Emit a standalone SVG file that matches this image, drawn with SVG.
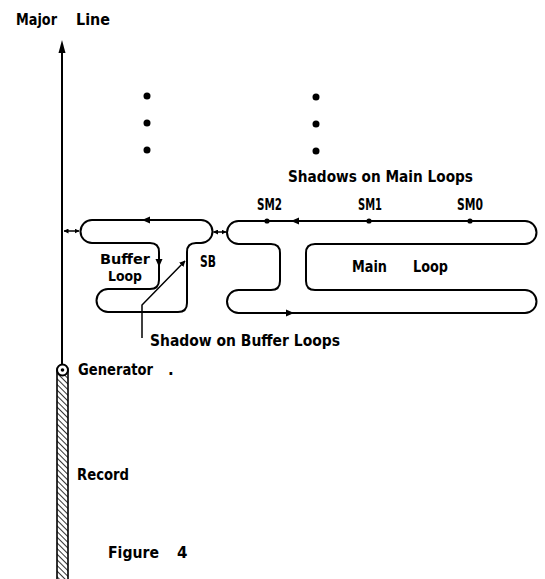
<svg xmlns="http://www.w3.org/2000/svg" width="545" height="579" viewBox="0 0 545 579">
<defs>
<style>
.t{font-family:"DejaVu Sans","Liberation Sans",sans-serif;font-size:15px;font-weight:bold;fill:#000}
.s{font-size:14px}
.ln{fill:none;stroke:#000;stroke-width:2;stroke-linejoin:round;stroke-linecap:round}
.thin{fill:none;stroke:#000;stroke-width:1.5}
.ah{fill:#000}
.dot{fill:#000}
</style>
<pattern id="hatch" patternUnits="userSpaceOnUse" width="4" height="4" patternTransform="rotate(-45)">
<rect width="4" height="4" fill="#fff"/>
<line x1="0" y1="0" x2="0" y2="4" stroke="#000" stroke-width="1.6"/>
</pattern>
<marker id="arrEnd" viewBox="0 0 10 10" refX="9" refY="5" markerWidth="6" markerHeight="6" orient="auto" markerUnits="userSpaceOnUse">
<path d="M0,0 L10,5 L0,10 Z" fill="#000"/>
</marker>
<marker id="arrSmall" viewBox="0 0 10 10" refX="9" refY="5" markerWidth="5" markerHeight="5" orient="auto-start-reverse" markerUnits="userSpaceOnUse">
<path d="M0,0 L10,5 L0,10 Z" fill="#000"/>
</marker>
</defs>
<rect width="545" height="579" fill="#fff"/>

<g id="major-line">
<line class="ln" x1="62" y1="50" x2="62" y2="365"/>
<path class="ah" d="M62,40 L65.5,53 L58.5,53 Z"/>
<text class="t" x="16" y="25" textLength="41" lengthAdjust="spacingAndGlyphs">Major</text>
<text class="t" x="76" y="25" textLength="34" lengthAdjust="spacingAndGlyphs">Line</text>
</g>

<g id="record">
<rect x="57" y="371" width="11" height="212" fill="url(#hatch)" stroke="#000" stroke-width="1.6"/>
<text class="t" x="77" y="480" textLength="52" lengthAdjust="spacingAndGlyphs">Record</text>
</g>

<g id="generator">
<circle cx="62.5" cy="370" r="5.5" fill="#fff" stroke="#000" stroke-width="2"/>
<circle cx="62.5" cy="370" r="1.8" fill="#000"/>
<text class="t" x="78" y="375" textLength="75" lengthAdjust="spacingAndGlyphs">Generator</text>
<text class="t" x="168" y="375">.</text>
</g>

<g id="main-shadow-dots">
<circle class="dot" cx="147" cy="96" r="3.5"/>
<circle class="dot" cx="147" cy="123" r="3.5"/>
<circle class="dot" cx="147" cy="150" r="3.5"/>
<circle class="dot" cx="316" cy="97" r="3.5"/>
<circle class="dot" cx="316" cy="124" r="3.5"/>
<circle class="dot" cx="316" cy="151" r="3.5"/>
<text class="t" x="288" y="182" textLength="185" lengthAdjust="spacingAndGlyphs">Shadows on Main Loops</text>
</g>

<g id="buffer-loop">
<path class="ln" d="M92,220 H201 A11.5,11.5 0 0 1 201,243 H196 Q187,243 187,252 V303 Q187,312 178,312 H108 A11.5,11.5 0 0 1 108,289 H150 Q159,289 159,280 V252 Q159,243 150,243 H92 A11.5,11.5 0 0 1 92,220 Z"/>
<path class="ah" d="M142,220 L150,216.5 L150,223.5 Z"/>
<path class="ah" d="M159,267 L155.5,259 L162.5,259 Z"/>
<text class="t s" x="100" y="264" textLength="50" lengthAdjust="spacingAndGlyphs">Buffer</text>
<text class="t s" x="108" y="281" textLength="34" lengthAdjust="spacingAndGlyphs">Loop</text>
<text class="t" x="200" y="267" textLength="16" lengthAdjust="spacingAndGlyphs">SB</text>
</g>

<g id="main-loop">
<path class="ln" d="M238.5,221 H525 A11.5,11.5 0 0 1 525,244 H315 Q306,244 306,253 V281 Q306,290 315,290 H525 A11.5,11.5 0 0 1 525,313 H238.5 A11.5,11.5 0 0 1 238.5,290 H271 Q280,290 280,281 V253 Q280,244 271,244 H238.5 A11.5,11.5 0 0 1 238.5,221 Z"/>
<path class="ah" d="M291,221 L299,217.5 L299,224.5 Z"/>
<path class="ah" d="M294,313 L286,309.5 L286,316.5 Z"/>
<circle class="dot" cx="267" cy="221" r="2.6"/>
<circle class="dot" cx="369" cy="221" r="2.6"/>
<circle class="dot" cx="470" cy="221" r="2.6"/>
<text class="t" x="257" y="210" textLength="25" lengthAdjust="spacingAndGlyphs">SM2</text>
<text class="t" x="358" y="210" textLength="24" lengthAdjust="spacingAndGlyphs">SM1</text>
<text class="t" x="457" y="210" textLength="26" lengthAdjust="spacingAndGlyphs">SM0</text>
<text class="t" x="352" y="272" textLength="35" lengthAdjust="spacingAndGlyphs">Main</text>
<text class="t" x="413" y="272" textLength="35" lengthAdjust="spacingAndGlyphs">Loop</text>
</g>

<g id="shadow-buffer">
<text class="t" x="150" y="346" textLength="190" lengthAdjust="spacingAndGlyphs">Shadow on Buffer Loops</text>
</g>

<g id="figure-caption">
<text class="t" x="108" y="558" textLength="51" lengthAdjust="spacingAndGlyphs">Figure</text>
<text class="t" x="177" y="558">4</text>
</g>

<g id="connectors">
<line class="thin" x1="64" y1="231" x2="79" y2="231" marker-start="url(#arrSmall)" marker-end="url(#arrSmall)"/>
<line class="thin" x1="213.5" y1="232" x2="226" y2="232" marker-start="url(#arrSmall)" marker-end="url(#arrSmall)"/>
<polyline class="thin" points="142,338 142,305 185,261" stroke-width="1.8" marker-end="url(#arrEnd)"/>
</g>
</svg>
